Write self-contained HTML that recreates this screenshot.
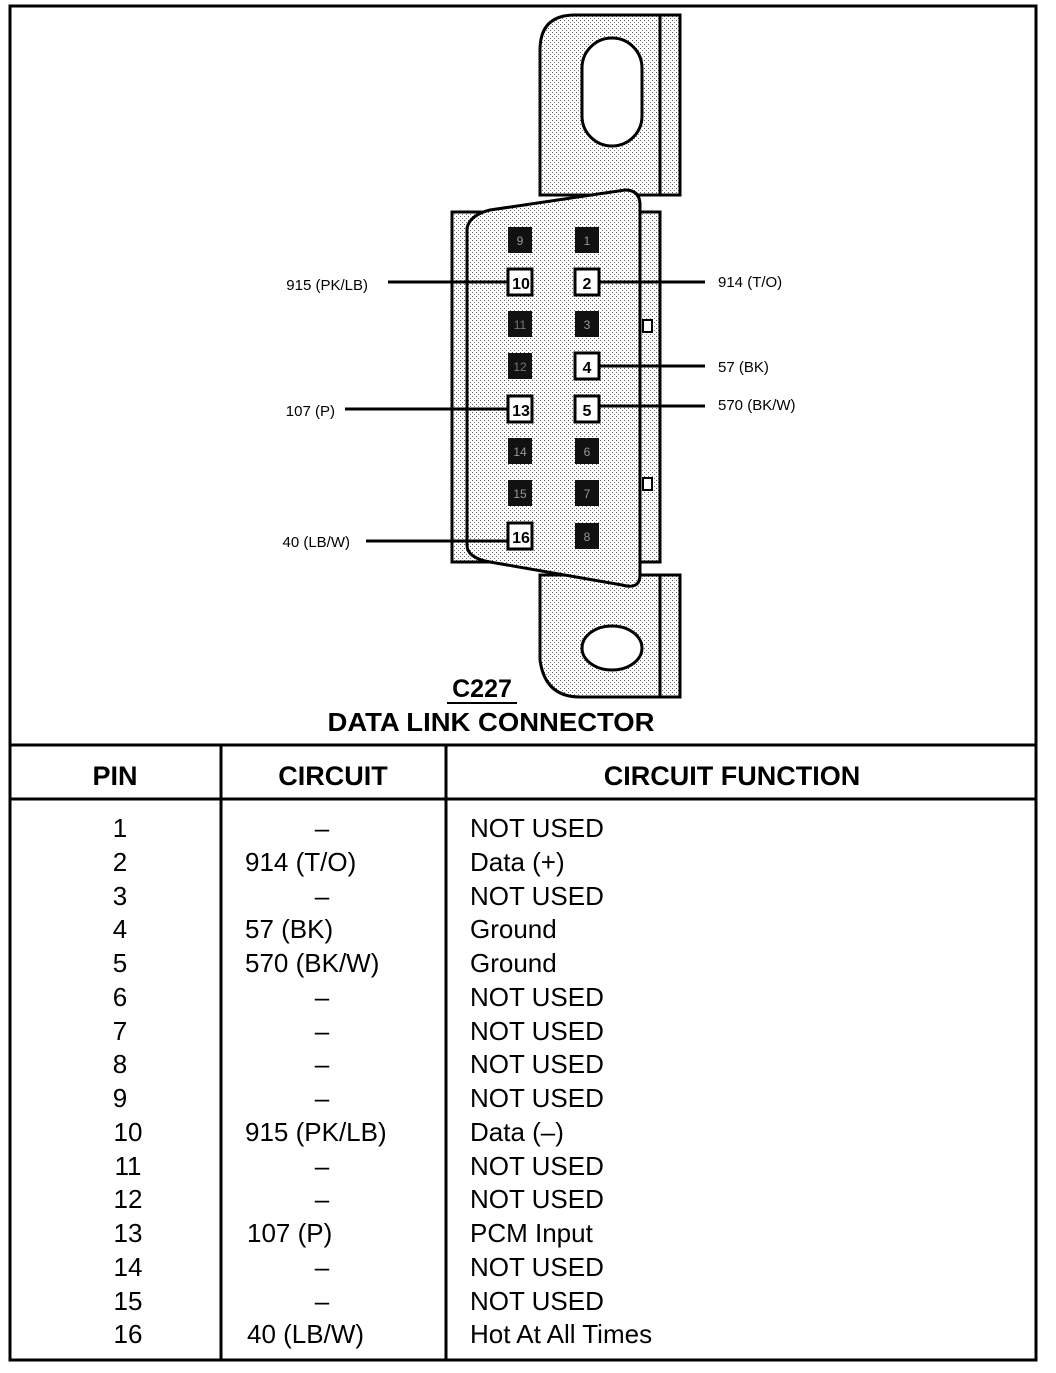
<!DOCTYPE html>
<html><head><style>
body{margin:0;background:#fff}
svg text{font-family:"Liberation Sans",Arial,sans-serif;fill:#000}
</style></head><body>
<svg width="1056" height="1368" viewBox="0 0 1056 1368" xmlns="http://www.w3.org/2000/svg">
<defs>
<pattern id="dot" width="4" height="4" patternUnits="userSpaceOnUse">
<rect width="4" height="4" fill="#fff"/><rect x="0" y="0" width="1" height="1" fill="#555"/><rect x="2" y="2" width="1" height="1" fill="#777"/>
</pattern>
</defs>
<rect x="10" y="6" width="1026" height="1354" fill="none" stroke="#000" stroke-width="3"/>
<line x1="10" y1="745" x2="1036" y2="745" stroke="#000" stroke-width="3"/>
<line x1="10" y1="799" x2="1036" y2="799" stroke="#000" stroke-width="3"/>
<line x1="221" y1="745" x2="221" y2="1360" stroke="#000" stroke-width="3"/>
<line x1="446" y1="745" x2="446" y2="1360" stroke="#000" stroke-width="3"/>

<!-- top tab -->
<path d="M540 195 L540 50 Q540 15 575 15 L660 15 L660 30 L670 35 L670 180 L660 185 L660 195 Z" fill="url(#dot)" stroke="#000" stroke-width="3"/>
<rect x="660" y="15" width="20" height="180" fill="url(#dot)" stroke="#000" stroke-width="3"/>
<rect x="582" y="38" width="60" height="108" rx="30" fill="#fff" stroke="#000" stroke-width="3"/>
<!-- bottom tab -->
<path d="M540 575 L540 660 Q545 697 580 697 L680 697 L680 575 Z" fill="url(#dot)" stroke="#000" stroke-width="3"/>
<line x1="660" y1="575" x2="660" y2="697" stroke="#000" stroke-width="3"/>
<ellipse cx="612" cy="648" rx="30" ry="22" fill="#fff" stroke="#000" stroke-width="3"/>
<!-- body -->
<rect x="452" y="212" width="208" height="350" fill="url(#dot)" stroke="#000" stroke-width="3"/>
<path d="M467 228 Q470 215 490 210 L625 190 Q640 190 640 205 L640 575 Q640 590 622 585 L490 562 Q467 558 467 545 Z" fill="url(#dot)" stroke="#000" stroke-width="3"/>
<rect x="643" y="320" width="9" height="12" fill="#fff" stroke="#000" stroke-width="2"/>
<rect x="643" y="478" width="9" height="12" fill="#fff" stroke="#000" stroke-width="2"/>

<g font-size="12" text-anchor="middle">
<rect x="508" y="227" width="24" height="26" fill="#111"/><text x="520" y="245" style="fill:#999">9</text>
<rect x="508" y="269" width="24" height="26" fill="#fff" stroke="#000" stroke-width="3"/><text x="521" y="289" font-weight="bold" font-size="16">10</text>
<rect x="508" y="311" width="24" height="26" fill="#111"/><text x="520" y="329" style="fill:#777">11</text>
<rect x="508" y="353" width="24" height="26" fill="#111"/><text x="520" y="371" style="fill:#777">12</text>
<rect x="508" y="396" width="24" height="26" fill="#fff" stroke="#000" stroke-width="3"/><text x="521" y="416" font-weight="bold" font-size="16">13</text>
<rect x="508" y="438" width="24" height="26" fill="#111"/><text x="520" y="456" style="fill:#999">14</text>
<rect x="508" y="480" width="24" height="26" fill="#111"/><text x="520" y="498" style="fill:#999">15</text>
<rect x="508" y="523" width="24" height="26" fill="#fff" stroke="#000" stroke-width="3"/><text x="521" y="543" font-weight="bold" font-size="16">16</text>
<rect x="575" y="227" width="24" height="26" fill="#111"/><text x="587" y="245" style="fill:#999">1</text>
<rect x="575" y="269" width="24" height="26" fill="#fff" stroke="#000" stroke-width="3"/><text x="587" y="289" font-weight="bold" font-size="16">2</text>
<rect x="575" y="311" width="24" height="26" fill="#111"/><text x="587" y="329" style="fill:#999">3</text>
<rect x="575" y="353" width="24" height="26" fill="#fff" stroke="#000" stroke-width="3"/><text x="587" y="373" font-weight="bold" font-size="16">4</text>
<rect x="575" y="396" width="24" height="26" fill="#fff" stroke="#000" stroke-width="3"/><text x="587" y="416" font-weight="bold" font-size="16">5</text>
<rect x="575" y="438" width="24" height="26" fill="#111"/><text x="587" y="456" style="fill:#999">6</text>
<rect x="575" y="480" width="24" height="26" fill="#111"/><text x="587" y="498" style="fill:#999">7</text>
<rect x="575" y="523" width="24" height="26" fill="#111"/><text x="587" y="541" style="fill:#999">8</text>
</g>
<g stroke="#000" stroke-width="3">
<line x1="388" y1="282" x2="508" y2="282"/>
<line x1="345" y1="409" x2="508" y2="409"/>
<line x1="366" y1="541" x2="508" y2="541"/>
<line x1="600" y1="282" x2="705" y2="282"/>
<line x1="600" y1="366" x2="705" y2="366"/>
<line x1="600" y1="406" x2="705" y2="406"/>
</g>
<g font-size="15">
<text x="368" y="290" text-anchor="end">915 (PK/LB)</text>
<text x="335" y="416" text-anchor="end">107 (P)</text>
<text x="350" y="547" text-anchor="end">40 (LB/W)</text>
<text x="718" y="287">914 (T/O)</text>
<text x="718" y="372">57 (BK)</text>
<text x="718" y="410">570 (BK/W)</text>
</g>
<text x="482" y="697" font-size="25" font-weight="bold" text-anchor="middle">C227</text>
<line x1="447" y1="703" x2="517" y2="703" stroke="#000" stroke-width="2"/>
<text x="491" y="731" font-size="26" font-weight="bold" text-anchor="middle" textLength="327" lengthAdjust="spacingAndGlyphs">DATA LINK CONNECTOR</text>

<g font-size="27" font-weight="bold" text-anchor="middle">
<text x="115" y="785">PIN</text>
<text x="333" y="785">CIRCUIT</text>
<text x="732" y="785">CIRCUIT FUNCTION</text>
</g>
<g font-size="26">
<g text-anchor="middle">
<text x="120" y="837">1</text><text x="120" y="871">2</text><text x="120" y="905">3</text><text x="120" y="938">4</text>
<text x="120" y="972">5</text><text x="120" y="1006">6</text><text x="120" y="1040">7</text><text x="120" y="1073">8</text>
<text x="120" y="1107">9</text><text x="128" y="1141">10</text><text x="128" y="1175">11</text><text x="128" y="1208">12</text>
<text x="128" y="1242">13</text><text x="128" y="1276">14</text><text x="128" y="1310">15</text><text x="128" y="1343">16</text>
<text x="322" y="837">–</text><text x="322" y="905">–</text>
<text x="322" y="1006">–</text><text x="322" y="1040">–</text><text x="322" y="1073">–</text><text x="322" y="1107">–</text>
<text x="322" y="1175">–</text><text x="322" y="1208">–</text><text x="322" y="1276">–</text><text x="322" y="1310">–</text>
</g>
<text x="245" y="871">914 (T/O)</text>
<text x="245" y="938">57 (BK)</text>
<text x="245" y="972">570 (BK/W)</text>
<text x="245" y="1141">915 (PK/LB)</text>
<text x="247" y="1242">107 (P)</text>
<text x="247" y="1343">40 (LB/W)</text>
<text x="470" y="837">NOT USED</text>
<text x="470" y="871">Data (+)</text>
<text x="470" y="905">NOT USED</text>
<text x="470" y="938">Ground</text>
<text x="470" y="972">Ground</text>
<text x="470" y="1006">NOT USED</text>
<text x="470" y="1040">NOT USED</text>
<text x="470" y="1073">NOT USED</text>
<text x="470" y="1107">NOT USED</text>
<text x="470" y="1141">Data (–)</text>
<text x="470" y="1175">NOT USED</text>
<text x="470" y="1208">NOT USED</text>
<text x="470" y="1242">PCM Input</text>
<text x="470" y="1276">NOT USED</text>
<text x="470" y="1310">NOT USED</text>
<text x="470" y="1343">Hot At All Times</text>
</g>
</svg>
</body></html>
